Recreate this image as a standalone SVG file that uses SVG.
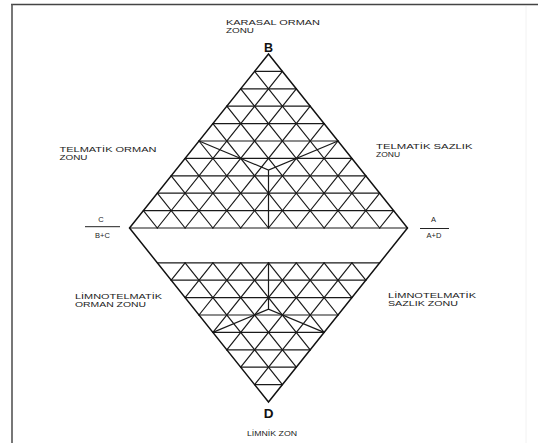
<svg xmlns="http://www.w3.org/2000/svg" width="538" height="443" viewBox="0 0 538 443">
<style>
.g{stroke:#1a1a1a;stroke-width:1.2;fill:none;stroke-linecap:round}
.o{stroke:#111;stroke-width:1.5;fill:none;stroke-linejoin:miter}
.t{font-family:"Liberation Sans",Arial,sans-serif;font-size:7.5px;fill:#222}
.c{text-anchor:middle}
.big{font-family:"Liberation Sans",Arial,sans-serif;font-weight:bold;fill:#111;text-anchor:middle}
</style>
<rect width="538" height="443" fill="#fff"/>
<g id="frame">
<line x1="11" y1="4.5" x2="538" y2="4.5" stroke="#444" stroke-width="1.6"/>
<line x1="12" y1="4" x2="12" y2="443" stroke="#555" stroke-width="1.6"/>
<line x1="526" y1="6" x2="526" y2="443" stroke="#f2f2f2" stroke-width="1"/>
</g>
<g id="upper-triangle">
<path class="g" d="M254.6 71.4H282.4M240.7 88.8H296.3M226.8 106.2H310.2M212.9 123.6H324.1M199 141H338M185.1 158.4H351.9M171.2 175.8H365.8M157.3 193.2H379.7M143.4 210.6H393.6M129.5 228H407.5"/>
<path class="g" d="M254.6 71.4L379.7 228M240.7 88.8L351.9 228M226.8 106.2L324.1 228M212.9 123.6L296.3 228M199 141L268.5 228M185.1 158.4L240.7 228M171.2 175.8L212.9 228M157.3 193.2L185.1 228M143.4 210.6L157.3 228"/>
<path class="g" d="M282.4 71.4L157.3 228M296.3 88.8L185.1 228M310.2 106.2L212.9 228M324.1 123.6L240.7 228M338 141L268.5 228M351.9 158.4L296.3 228M365.8 175.8L324.1 228M379.7 193.2L351.9 228M393.6 210.6L379.7 228"/>
<path class="g" d="M199 141L268.5 170L338 141M268.5 170V228"/>
</g>
<g id="lower-triangle">
<path class="g" d="M157.3 262.8H379.7M171.2 280.2H365.8M185.1 297.6H351.9M199 315H338M212.9 332.4H324.1M226.8 349.8H310.2M240.7 367.2H296.3M254.6 384.6H282.4"/>
<path class="g" d="M185.1 262.8L171.2 280.2M212.9 262.8L185.1 297.6M240.7 262.8L199 315M268.5 262.8L212.9 332.4M296.3 262.8L226.8 349.8M324.1 262.8L240.7 367.2M351.9 262.8L254.6 384.6"/>
<path class="g" d="M185.1 262.8L282.4 384.6M212.9 262.8L296.3 367.2M240.7 262.8L310.2 349.8M268.5 262.8L324.1 332.4M296.3 262.8L338 315M324.1 262.8L351.9 297.6M351.9 262.8L365.8 280.2"/>
<path class="g" d="M212.9 332.4L268.5 309.2L324.1 332.4M268.5 309.2V262.8"/>
</g>
<g id="outline">
<path class="o" d="M268.5 54L407.5 228L268.5 402L129.5 228Z"/>
</g>
<g id="labels">
<text class="big" x="268.5" y="52" font-size="12.5">B</text>
<text class="big" x="268.5" y="417.5" font-size="13.5">D</text>
<text class="t" x="226" y="25" textLength="94" lengthAdjust="spacingAndGlyphs">KARASAL ORMAN</text>
<text class="t" x="226" y="32.5" textLength="28" lengthAdjust="spacingAndGlyphs">ZONU</text>
<text class="t" x="59.5" y="152.3" textLength="97" lengthAdjust="spacingAndGlyphs">TELMATİK ORMAN</text>
<text class="t" x="59.5" y="160" textLength="28" lengthAdjust="spacingAndGlyphs">ZONU</text>
<text class="t" x="376" y="149.3" textLength="96.5" lengthAdjust="spacingAndGlyphs">TELMATİK SAZLIK</text>
<text class="t" x="376" y="157.3" textLength="24" lengthAdjust="spacingAndGlyphs">ZONU</text>
<text class="t c" x="101" y="221.7">C</text>
<line x1="85" y1="226.7" x2="120" y2="226.7" stroke="#222" stroke-width="1"/>
<text class="t c" x="102.5" y="238.3">B+C</text>
<text class="t c" x="433.5" y="222">A</text>
<line x1="420" y1="228.5" x2="449" y2="228.5" stroke="#222" stroke-width="1"/>
<text class="t c" x="434" y="238.3">A+D</text>
<text class="t" x="75" y="299" textLength="87" lengthAdjust="spacingAndGlyphs">LİMNOTELMATİK</text>
<text class="t" x="75" y="307" textLength="71" lengthAdjust="spacingAndGlyphs">ORMAN ZONU</text>
<text class="t" x="388" y="298.3" textLength="88" lengthAdjust="spacingAndGlyphs">LİMNOTELMATİK</text>
<text class="t" x="388" y="306.3" textLength="70" lengthAdjust="spacingAndGlyphs">SAZLIK ZONU</text>
<text class="t" x="247" y="436" textLength="50" lengthAdjust="spacingAndGlyphs">LİMNİK ZON</text>
</g>
</svg>
